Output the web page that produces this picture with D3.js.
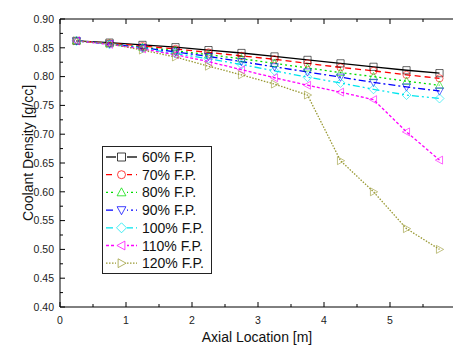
<!DOCTYPE html>
<html><head><meta charset="utf-8">
<script src="https://cdn.jsdelivr.net/npm/d3@7"></script>
<style>body{margin:0;background:#fff}svg{display:block;font-family:"Liberation Sans",Arial,sans-serif}</style>
</head><body><svg id="c" width="453" height="347"></svg>
<script>
const xPos = [0.25,0.75,1.25,1.75,2.25,2.75,3.25,3.75,4.25,4.75,5.25,5.75];
const seriesNames = ["60% F.P.","70% F.P.","80% F.P.","90% F.P.","100% F.P.","110% F.P.","120% F.P."];
const fp60  = [0.862,0.859,0.855,0.851,0.846,0.841,0.835,0.829,0.823,0.817,0.811,0.806];
const fp70  = [0.862,0.858,0.853,0.848,0.842,0.836,0.830,0.823,0.816,0.810,0.803,0.797];
const fp80  = [0.862,0.857,0.851,0.845,0.838,0.831,0.823,0.815,0.807,0.800,0.792,0.785];
const fp90  = [0.862,0.857,0.850,0.843,0.835,0.826,0.817,0.808,0.799,0.790,0.782,0.775];
const fp100 = [0.862,0.856,0.849,0.840,0.831,0.821,0.810,0.799,0.789,0.778,0.768,0.762];
const fp110 = [0.862,0.856,0.848,0.838,0.826,0.812,0.798,0.785,0.773,0.760,0.704,0.655];
const fp120 = [0.862,0.857,0.846,0.834,0.818,0.803,0.787,0.768,0.654,0.600,0.536,0.500];
const yTickLabels = ["0.40","0.45","0.50","0.55","0.60","0.65","0.70","0.75","0.80","0.85","0.90"];
const xTickLabels = ["0","1","2","3","4","5"];

const seriesValues = [fp60,fp70,fp80,fp90,fp100,fp110,fp120];
const colors = ["#000000","#ff0000","#00dd00","#0000ff","#00e5ee","#ff00ff","#999933"];
const dashes = [null,"6,4","2,3","7,3,2,3","7,3,2,3,2,3","3,2","1.5,1.5"];
const markers = ["square","circle","up","down","diamond","left","right"];

const svg = d3.select("#c");
const L = 60, T = 19, B = 307;
const x = d3.scaleLinear().domain([0,6]).range([L, L + 6*66]);
const y = d3.scaleLinear().domain([0.40,0.90]).range([B, T]);
const RIGHT = 453;

const g = svg.append("g");
g.append("line").attr("x1",L).attr("x2",RIGHT).attr("y1",T).attr("y2",T).attr("stroke","#000").attr("stroke-width",1);
g.append("line").attr("x1",L).attr("x2",RIGHT).attr("y1",B).attr("y2",B).attr("stroke","#000").attr("stroke-width",1);
g.append("line").attr("x1",L).attr("x2",L).attr("y1",T).attr("y2",B).attr("stroke","#000").attr("stroke-width",1);

const yMajor = d3.range(0,11).map(i=>0.40+i*0.05);
const yMinor = d3.range(0,10).map(i=>0.425+i*0.05);
yMajor.forEach(v=>g.append("line").attr("x1",L).attr("x2",L+5).attr("y1",y(v)).attr("y2",y(v)).attr("stroke","#000"));
yMinor.forEach(v=>g.append("line").attr("x1",L).attr("x2",L+3).attr("y1",y(v)).attr("y2",y(v)).attr("stroke","#000"));
svg.append("g").selectAll("text").data(yTickLabels).join("text")
  .attr("x",L-6).attr("y",(d)=>y(+d)+3.7).attr("text-anchor","end")
  .attr("font-size",10.5).attr("fill","#222").text(d=>d);

const xMajor = d3.range(0,6);
const xMinor = d3.range(0,6).map(i=>i+0.5);
xMajor.forEach(v=>{
  g.append("line").attr("x1",x(v)).attr("x2",x(v)).attr("y1",B).attr("y2",B-5).attr("stroke","#000");
  g.append("line").attr("x1",x(v)).attr("x2",x(v)).attr("y1",T).attr("y2",T+5).attr("stroke","#000");
});
xMinor.forEach(v=>{
  g.append("line").attr("x1",x(v)).attr("x2",x(v)).attr("y1",B).attr("y2",B-3).attr("stroke","#000");
  g.append("line").attr("x1",x(v)).attr("x2",x(v)).attr("y1",T).attr("y2",T+3).attr("stroke","#000");
});
svg.append("g").selectAll("text").data(xTickLabels).join("text")
  .attr("x",d=>x(+d)).attr("y",B+17).attr("text-anchor","middle")
  .attr("font-size",10.5).attr("fill","#222").text(d=>d);

svg.append("text").attr("x",257).attr("y",342).attr("text-anchor","middle").attr("font-size",14).attr("fill","#111").text("Axial Location [m]");
svg.append("text").attr("transform","translate(33,153) rotate(-90)").attr("text-anchor","middle").attr("font-size",14).attr("fill","#111").text("Coolant Density [g/cc]");

function markerPath(type, s){
  switch(type){
    case "square": return `M${-s},${-s}h${2*s}v${2*s}h${-2*s}Z`;
    case "circle": return `M${s},0A${s},${s} 0 1,1 ${-s},0A${s},${s} 0 1,1 ${s},0Z`;
    case "up": return `M0,${-s*1.15}L${s*1.1},${s*0.85}L${-s*1.1},${s*0.85}Z`;
    case "down": return `M0,${s*1.15}L${s*1.1},${-s*0.85}L${-s*1.1},${-s*0.85}Z`;
    case "diamond": return `M0,${-s*1.25}L${s*1.25},0L0,${s*1.25}L${-s*1.25},0Z`;
    case "left": return `M${-s*1.15},0L${s*0.85},${-s*1.1}L${s*0.85},${s*1.1}Z`;
    case "right": return `M${s*1.15},0L${-s*0.85},${-s*1.1}L${-s*0.85},${s*1.1}Z`;
  }
}

const line = d3.line().x((d,i)=>x(xPos[i])).y(d=>y(d));
const plot = svg.append("g");
seriesValues.forEach((vals,k)=>{
  plot.append("path").attr("d",line(vals)).attr("fill","none").attr("stroke",colors[k])
    .attr("stroke-width",1.3).attr("stroke-dasharray",dashes[k]);
});
seriesValues.forEach((vals,k)=>{
  plot.append("g").selectAll("path").data(vals).join("path")
    .attr("transform",(d,i)=>`translate(${x(xPos[i])},${y(d)})`)
    .attr("d",markerPath(markers[k],3.6)).attr("fill","none")
    .attr("stroke",colors[k]).attr("stroke-opacity",0.6).attr("stroke-width",1);
});

const lg = svg.append("g");
lg.append("rect").attr("x",102.5).attr("y",146.5).attr("width",109).attr("height",127)
  .attr("fill","#fff").attr("stroke","#222").attr("stroke-width",1);
seriesNames.forEach((name,k)=>{
  const yy = 157 + k*17.7;
  lg.append("line").attr("x1",106).attr("x2",137).attr("y1",yy).attr("y2",yy)
    .attr("stroke",colors[k]).attr("stroke-width",1.3).attr("stroke-dasharray",dashes[k]);
  lg.append("rect").attr("x",116).attr("y",yy-6).attr("width",11).attr("height",12).attr("fill","#fff");
  lg.append("path").attr("transform",`translate(121.5,${yy})`).attr("d",markerPath(markers[k],4))
    .attr("fill","#fff").attr("stroke",colors[k]).attr("stroke-opacity",0.75).attr("stroke-width",1);
  lg.append("text").attr("x",142).attr("y",yy+5).attr("font-size",14).attr("fill","#111").text(name);
});
</script></body></html>
